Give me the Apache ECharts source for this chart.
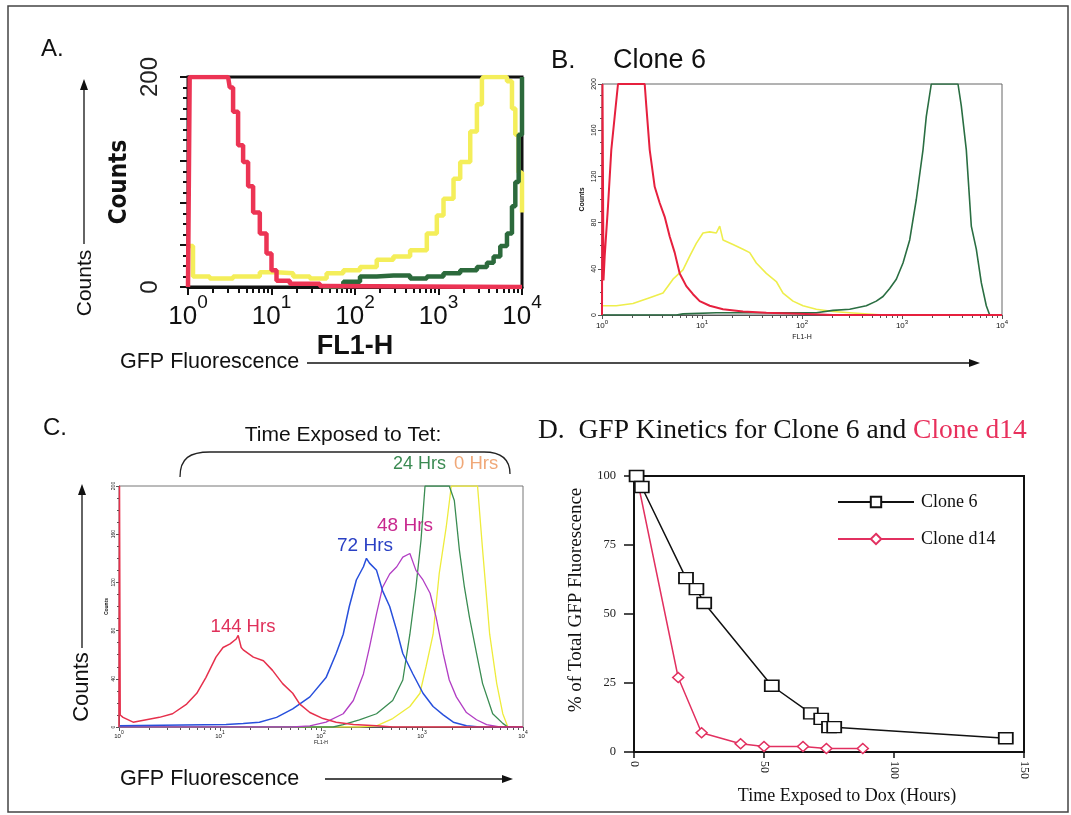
<!DOCTYPE html>
<html>
<head>
<meta charset="utf-8">
<script src="https://cdn.jsdelivr.net/npm/echarts@6/dist/echarts.min.js"></script>
<style>
  html, body { margin: 0; background: #fff; }
  #chart { width: 1071px; height: 815px; }
</style>
</head>
<body>
<div id="chart"></div>
<script>
// x of the histograms is in decades of FL1-H (0 = 10^0 ... 4 = 10^4), y is counts
const decadeTicks = [0, 1, 2, 3, 4];

// A. three stepped histograms
const aRed = [[0,0],[0.02,200],[0.48,200],[0.5,190],[0.54,167],[0.6,135],[0.66,119],[0.72,96],[0.78,71],[0.86,51],[0.94,32],[1.0,16],[1.06,6],[1.22,3],[1.58,1],[1.62,0],[4,0]];
const aYellow = [[0,39],[0.06,10],[0.26,8],[0.54,10],[0.86,14],[1.06,13],[1.26,10],[1.46,8],[1.66,13],[1.86,16],[2.06,19],[2.26,26],[2.46,29],[2.66,35],[2.86,51],[2.98,68],[3.06,84],[3.18,103],[3.26,119],[3.38,148],[3.46,174],[3.52,198],[3.54,200],[3.74,200],[3.82,196],[3.88,170],[3.92,145],[3.96,109],[4.0,71]];
const aGreen = [[1.62,0],[1.86,5],[2.06,10],[2.26,11],[2.46,11],[2.66,8],[2.86,10],[3.06,13],[3.26,16],[3.46,19],[3.58,23],[3.66,29],[3.74,39],[3.82,51],[3.88,77],[3.92,100],[3.96,145],[4.0,200]];

// B. Clone 6
const bRed = [[0,0],[0.005,200],[0.015,30],[0.027,51],[0.06,94],[0.093,143],[0.127,172],[0.16,200],[0.427,200],[0.443,181],[0.477,143],[0.527,111],[0.577,97],[0.627,85],[0.677,68],[0.727,54],[0.777,36],[0.843,25],[0.91,18],[0.977,12],[1.077,8],[1.21,5],[1.41,3],[1.643,2],[1.977,1],[2.31,0],[4,0]];
const bYellow = [[0.01,8],[0.143,8],[0.31,10],[0.477,15],[0.61,19],[0.71,31],[0.81,39],[0.877,51],[0.943,62],[1.01,71],[1.077,72],[1.143,71],[1.177,77],[1.21,65],[1.31,61],[1.41,57],[1.477,54],[1.543,45],[1.643,36],[1.743,29],[1.81,19],[1.91,12],[2.01,8],[2.143,5],[2.31,3],[2.477,2],[2.81,0]];
const bGreen = [[0,0],[0.743,0],[0.81,1],[1.143,2],[1.81,2],[2.143,2],[2.31,4],[2.477,5],[2.643,8],[2.743,12],[2.81,16],[2.877,23],[2.943,31],[3.01,45],[3.077,65],[3.143,100],[3.21,143],[3.243,172],[3.293,200],[3.56,200],[3.593,181],[3.643,143],[3.693,77],[3.743,57],[3.793,28],[3.843,8],[3.877,0],[4,0]];

// C. time exposed to Tet
const c144 = [[0,0],[0.005,200],[0.012,10],[0.04,8],[0.14,4],[0.27,6],[0.4,8],[0.53,11],[0.67,19],[0.77,28],[0.86,41],[0.96,58],[1.03,66],[1.1,69],[1.16,73],[1.18,76],[1.21,66],[1.23,64],[1.33,58],[1.43,55],[1.52,47],[1.62,36],[1.72,28],[1.79,19],[1.89,12],[2.02,7],[2.15,4],[2.32,2],[2.55,1],[2.71,0],[4,0]];
const c72 = [[0,1],[1.06,2],[1.23,3],[1.39,4],[1.56,8],[1.72,15],[1.89,25],[2.05,41],[2.15,61],[2.22,77],[2.28,100],[2.35,122],[2.42,133],[2.45,140],[2.48,136],[2.55,130],[2.61,113],[2.68,100],[2.75,80],[2.81,61],[2.91,44],[3.01,28],[3.11,17],[3.21,10],[3.31,4],[3.44,1],[3.57,0],[4,0]];
const c48 = [[0,0],[1.72,0],[1.89,1],[2.05,4],[2.22,11],[2.32,22],[2.42,44],[2.48,66],[2.55,94],[2.61,116],[2.68,127],[2.75,133],[2.81,141],[2.88,144],[2.94,130],[3.01,122],[3.08,111],[3.14,91],[3.21,61],[3.27,39],[3.34,25],[3.44,12],[3.54,6],[3.64,2],[3.77,0],[4,0]];
const c24 = [[0,0],[2.12,0],[2.22,2],[2.38,6],[2.55,11],[2.71,22],[2.81,39],[2.88,77],[2.94,116],[2.99,155],[3.03,200],[3.27,200],[3.32,188],[3.37,147],[3.42,116],[3.47,91],[3.54,61],[3.6,36],[3.7,11],[3.8,3],[3.85,0],[4,0]];
const c0 = [[0,0],[2.38,0],[2.55,1],[2.71,7],[2.88,17],[2.98,28],[3.04,50],[3.11,77],[3.17,127],[3.24,166],[3.29,200],[3.55,200],[3.6,147],[3.67,77],[3.74,36],[3.8,11],[3.85,0],[4,0]];

// D. GFP kinetics (hours, % of total)
const clone6Hours = [1, 3, 20, 24, 27, 53, 68, 72, 75, 77, 143];
const clone6Pct = [100, 96, 63, 59, 54, 24, 14, 12, 9, 9, 5];
const d14Hours = [1, 17, 26, 41, 50, 65, 74, 88];
const d14Pct = [100, 27, 7, 3, 2, 2, 1.3, 1.3];

const SANS = "'Liberation Sans', Arial, sans-serif";
const NARROW = "'DejaVu Sans Condensed', 'Liberation Sans', Arial, sans-serif";
const SERIF = "'Liberation Serif', 'Times New Roman', serif";

// minor ticks of a log axis (2..9 inside each decade)
const minorLog = [];
decadeTicks.slice(0, 4).forEach(d => {
  for (let m = 2; m <= 9; m++) minorLog.push(d + Math.log10(m));
});

function pow10Label(v) {
  return '{b|10}{s|' + v + '}';
}

function logAxes(grid, o) {
  const main = {
    type: 'value', gridIndex: grid, min: 0, max: 4, interval: 1, position: 'bottom',
    splitLine: { show: false },
    axisLine: { lineStyle: { color: o.color, width: o.lineW } },
    axisTick: { length: o.tick, lineStyle: { color: o.color, width: o.tickW } },
    axisLabel: {
      formatter: pow10Label, margin: o.margin,
      rich: {
        b: { fontSize: o.fs, fontFamily: SANS, color: '#111', verticalAlign: 'bottom', lineHeight: o.lh },
        s: { fontSize: o.fs2, fontFamily: SANS, color: '#111', verticalAlign: 'top', lineHeight: o.fs2 }
      }
    },
    name: 'FL1-H', nameLocation: 'middle', nameGap: o.nameGap,
    nameTextStyle: { fontFamily: o.nameFont || SANS, fontSize: o.nameSize, fontWeight: o.nameWeight || 'normal', color: '#111' }
  };
  const minor = {
    type: 'value', gridIndex: grid, min: 0, max: 4, interval: 1, position: 'bottom',
    splitLine: { show: false }, axisLine: { show: false }, axisLabel: { show: false },
    axisTick: { customValues: minorLog, length: o.minorTick, lineStyle: { color: o.color, width: o.tickW } }
  };
  return [main, minor];
}

function countAxis(grid, o) {
  return {
    type: 'value', gridIndex: grid, min: 0, max: 200, interval: 40,
    splitLine: { show: false },
    axisLine: { lineStyle: { color: o.color, width: o.lineW } },
    axisTick: { length: o.tick, lineStyle: { color: o.color, width: o.tickW } },
    minorTick: { show: true, splitNumber: 4, length: o.minorTick, lineStyle: { color: o.color, width: o.tickW } },
    axisLabel: {
      rotate: 90, fontSize: o.fs, fontFamily: SANS, color: '#222', margin: o.margin,
      formatter: o.only ? (v => (o.only.indexOf(v) >= 0 ? v : '')) : undefined
    },
    name: 'Counts', nameLocation: 'middle', nameGap: o.nameGap,
    nameTextStyle: { fontFamily: o.nameFont || SANS, fontSize: o.nameSize, fontWeight: 'bold', color: '#111' }
  };
}

function hist(name, data, color, x, y, width, step) {
  return {
    name: name, type: 'line', data: data, xAxisIndex: x, yAxisIndex: y,
    step: step || false, showSymbol: false, symbol: 'none', silent: true,
    lineStyle: { color: color, width: width }, itemStyle: { color: color }, z: 3
  };
}

function arrowHead(x, y, dir) {
  // small filled triangle, tip at x,y
  const pts = dir === 'up'
    ? [[x, y], [x - 4, y + 11], [x + 4, y + 11]]
    : [[x, y], [x - 11, y - 4], [x - 11, y + 4]];
  return { type: 'polygon', shape: { points: pts }, style: { fill: '#111' } };
}

function label(x, y, text, size, color, align, rot) {
  return {
    type: 'text', x: x, y: y, rotation: rot || 0,
    style: { text: text, fill: color || '#111', font: size + 'px ' + SANS, align: align || 'left', verticalAlign: 'middle' }
  };
}

const chart = echarts.init(document.getElementById('chart'));

const xA = logAxes(0, { color: '#111', lineW: 3, tick: 8, minorTick: 6, tickW: 2, fs: 26, fs2: 19, lh: 37, margin: 6, nameGap: 46, nameSize: 27, nameWeight: 'bold' });
const xB = logAxes(1, { color: '#555', lineW: 1, tick: 4, minorTick: 3, tickW: 1, fs: 8, fs2: 6, lh: 11, margin: 4, nameGap: 19, nameSize: 7 });
const xC = logAxes(2, { color: '#555', lineW: 1, tick: 4, minorTick: 3, tickW: 1, fs: 6, fs2: 5, lh: 9, margin: 3, nameGap: 12, nameSize: 5 });

chart.setOption({
  animation: false,
  backgroundColor: '#fff',
  grid: [
    { left: 188, top: 77, width: 334, height: 210, show: true, borderColor: '#111', borderWidth: 3, outerBoundsMode: 'none' },
    { left: 602, top: 84, width: 400, height: 231, show: true, borderColor: '#666', borderWidth: 1, outerBoundsMode: 'none' },
    { left: 119, top: 486, width: 404, height: 241, show: true, borderColor: '#777', borderWidth: 1, outerBoundsMode: 'none' },
    { left: 634, top: 476, width: 390, height: 276, show: true, borderColor: '#111', borderWidth: 2, outerBoundsMode: 'none' }
  ],
  xAxis: [
    xA[0], xA[1], xB[0], xB[1], xC[0], xC[1],
    {
      type: 'value', gridIndex: 3, min: 0, max: 150, interval: 50,
      splitLine: { show: false },
      axisLine: { lineStyle: { color: '#111', width: 2 } },
      axisTick: { length: 6, lineStyle: { color: '#111', width: 1.5 } },
      axisLabel: { rotate: -90, fontFamily: SERIF, fontSize: 12, color: '#222', margin: 9 },
      name: 'Time Exposed to Dox (Hours)', nameLocation: 'middle', nameGap: 35,
      nameTextStyle: { fontFamily: SERIF, fontSize: 18, color: '#111', padding: [0, 0, 0, 36] }
    }
  ],
  yAxis: [
    countAxis(0, { color: '#111', lineW: 3, tick: 8, minorTick: 5, tickW: 2, fs: 24, margin: 26, only: [0, 200], nameGap: 56, nameSize: 24, nameFont: NARROW }),
    countAxis(1, { color: '#555', lineW: 1, tick: 4, minorTick: 2, tickW: 1, fs: 7, margin: 4, nameGap: 16, nameSize: 7 }),
    countAxis(2, { color: '#555', lineW: 1, tick: 3, minorTick: 2, tickW: 1, fs: 5, margin: 3, nameGap: 10, nameSize: 5 }),
    {
      type: 'value', gridIndex: 3, min: 0, max: 100, interval: 25,
      splitLine: { show: false },
      axisLine: { lineStyle: { color: '#111', width: 2 } },
      axisTick: { length: 10, lineStyle: { color: '#111', width: 1.5 } },
      axisLabel: { fontFamily: SERIF, fontSize: 12.5, color: '#222', margin: 18 },
      name: '% of Total GFP Fluorescence', nameLocation: 'middle', nameGap: 48,
      nameTextStyle: { fontFamily: SERIF, fontSize: 19, color: '#111', padding: [0, 0, 0, 28] }
    }
  ],
  legend: {
    data: ['Clone 6', 'Clone d14'],
    left: 832, top: 488, orient: 'vertical',
    itemWidth: 76, itemHeight: 13, itemGap: 19,
    textStyle: { fontFamily: SERIF, fontSize: 18, color: '#111', padding: [0, 0, 0, 2] }
  },
  series: [
    hist('A yellow', aYellow, '#f4ee5a', 0, 0, 4.5, 'end'),
    hist('A green', aGreen, '#2c6a3c', 0, 0, 4.5, 'end'),
    hist('A red', aRed, '#ec3454', 0, 0, 4.5, 'end'),

    hist('B yellow', bYellow, '#eeee4c', 2, 1, 1.6),
    hist('B green', bGreen, '#2a6e42', 2, 1, 1.6),
    hist('B red', bRed, '#e6203e', 2, 1, 2),

    hist('0 Hrs', c0, '#eeec3c', 4, 2, 1.3),
    hist('24 Hrs', c24, '#3a8c52', 4, 2, 1.3),
    hist('48 Hrs', c48, '#b23ec4', 4, 2, 1.3),
    hist('72 Hrs', c72, '#2850dc', 4, 2, 1.5),
    hist('144 Hrs', c144, '#e6304c', 4, 2, 1.5),

    {
      name: 'Clone 6', type: 'line', xAxisIndex: 6, yAxisIndex: 3,
      data: clone6Hours.map((h, i) => [h, clone6Pct[i]]),
      symbol: 'rect', symbolSize: [14, 11],
      lineStyle: { color: '#111', width: 1.5 },
      itemStyle: { color: '#fff', borderColor: '#111', borderWidth: 1.6 }, z: 4
    },
    {
      name: 'Clone d14', type: 'line', xAxisIndex: 6, yAxisIndex: 3,
      data: d14Hours.map((h, i) => [h, d14Pct[i]]),
      symbol: 'diamond', symbolSize: [11, 10],
      lineStyle: { color: '#e23060', width: 1.5 },
      itemStyle: { color: '#fff', borderColor: '#e23060', borderWidth: 1.5 }, z: 3
    }
  ],
  graphic: [
    { type: 'rect', shape: { x: 8, y: 6, width: 1060, height: 806 }, style: { fill: 'none', stroke: '#444', lineWidth: 1.5 }, z: -10 },

    // A / B shared arrows
    label(41, 49, 'A.', 24),
    label(85, 283, 'Counts', 21, '#111', 'center', Math.PI / 2),
    { type: 'line', shape: { x1: 84, y1: 244, x2: 84, y2: 86 }, style: { stroke: '#111', lineWidth: 1.3 } },
    arrowHead(84, 79, 'up'),
    label(120, 362, 'GFP Fluorescence', 21.5),
    { type: 'line', shape: { x1: 307, y1: 363, x2: 972, y2: 363 }, style: { stroke: '#111', lineWidth: 1.3 } },
    arrowHead(980, 363, 'right'),
    label(551, 61, 'B.', 26),
    label(613, 61, 'Clone 6', 27),

    // C
    label(43, 428, 'C.', 24),
    label(343, 435, 'Time Exposed to Tet:', 21, '#111', 'center'),
    { type: 'bezierCurve', shape: { x1: 180, y1: 477, cpx1: 180, cpy1: 458, cpx2: 190, cpy2: 452, x2: 210, y2: 452 }, style: { fill: 'none', stroke: '#222', lineWidth: 1.3 } },
    { type: 'line', shape: { x1: 210, y1: 452, x2: 484, y2: 452 }, style: { stroke: '#222', lineWidth: 1.3 } },
    { type: 'bezierCurve', shape: { x1: 484, y1: 452, cpx1: 502, cpy1: 452, cpx2: 510, cpy2: 460, x2: 510, y2: 474 }, style: { fill: 'none', stroke: '#222', lineWidth: 1.3 } },
    label(393, 464, '24 Hrs', 18, '#3a8a52'),
    label(454, 464, '0 Hrs', 18.5, '#f0a878'),
    label(243, 627, '144 Hrs', 18.5, '#e0305a', 'center'),
    label(365, 546, '72 Hrs', 19, '#2a40c4', 'center'),
    label(405, 526, '48 Hrs', 19, '#c8288e', 'center'),
    label(82, 687, 'Counts', 22, '#111', 'center', Math.PI / 2),
    { type: 'line', shape: { x1: 82, y1: 648, x2: 82, y2: 491 }, style: { stroke: '#111', lineWidth: 1.3 } },
    arrowHead(82, 484, 'up'),
    label(120, 779, 'GFP Fluorescence', 21.5),
    { type: 'line', shape: { x1: 325, y1: 779, x2: 505, y2: 779 }, style: { stroke: '#111', lineWidth: 1.3 } },
    arrowHead(513, 779, 'right'),

    // D title
    {
      type: 'text', x: 538, y: 431,
      style: {
        text: '{k|D.  GFP Kinetics for Clone 6 and }{r|Clone d14}',
        verticalAlign: 'middle', align: 'left',
        rich: {
          k: { fontFamily: SERIF, fontSize: 27.5, fill: '#111' },
          r: { fontFamily: SERIF, fontSize: 27.5, fill: '#e8305c' }
        }
      }
    }
  ]
});
</script>
</body>
</html>
